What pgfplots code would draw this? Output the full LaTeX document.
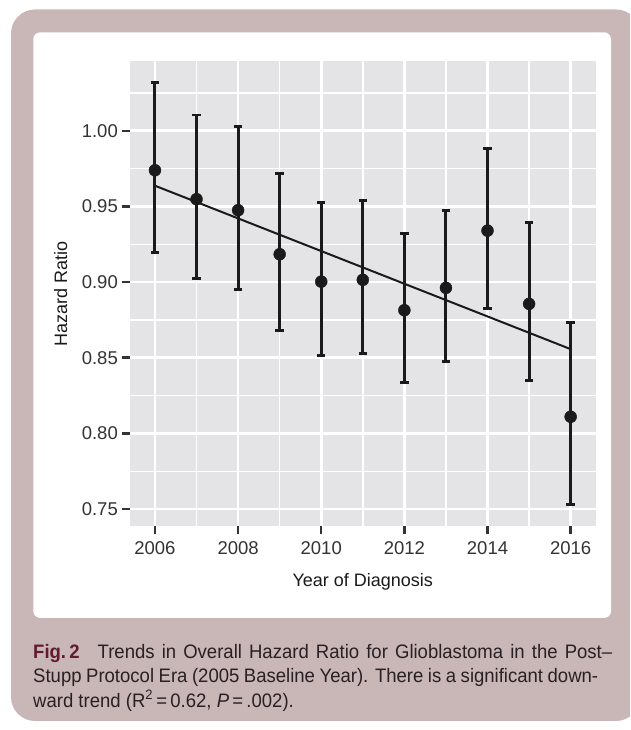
\documentclass[border=0pt]{standalone}
\usepackage{fontspec}
\usepackage{pgfplots}
\usepackage{pgfplotstable}
\pgfplotsset{compat=1.18}
\setmainfont{Liberation Sans}
\newfontfamily\capfont[FakeStretch=0.95]{Liberation Sans}
\definecolor{framecol}{RGB}{201,183,183}
\definecolor{panelcol}{RGB}{228,228,230}
\definecolor{figcol}{RGB}{100,25,50}
\definecolor{captext}{RGB}{40,32,36}
\definecolor{ink}{RGB}{26,26,26}
\definecolor{tickcol}{RGB}{51,51,51}

\pgfplotstableread{
x    y      lo     hi
2006 0.9739 0.9195 1.0318
2007 0.9548 0.9023 1.0104
2008 0.9475 0.8953 1.0027
2009 0.9184 0.8680 0.9719
2010 0.9003 0.8515 0.9528
2011 0.9015 0.8526 0.9541
2012 0.8814 0.8339 0.9320
2013 0.8962 0.8475 0.9475
2014 0.9340 0.8828 0.9884
2015 0.8856 0.8349 0.9393
2016 0.8110 0.7528 0.8735
}\hrdata

\begin{document}
\begin{tikzpicture}[x=1pt,y=1pt]
\path[use as bounding box] (0,0) rectangle (630,730);
\begin{scope}
\clip (0,0) rectangle (630,730);
\fill[framecol, rounded corners=24pt] (11,9) rectangle (640,720.5);
\end{scope}
\fill[white, rounded corners=7pt] (33.3,112) rectangle (611,697.7);

\begin{axis}[
  at={(129.6pt,204pt)}, anchor=south west,
  scale only axis, width=466.4pt, height=464.5pt,
  xmin=2005.39, xmax=2016.61, ymin=0.7388, ymax=1.0458,
  axis background/.style={fill=panelcol},
  axis line style={draw=none},
  xtick={2006,2008,2010,2012,2014,2016},
  xticklabels={2006,2008,2010,2012,2014,2016},
  ytick={0.75,0.80,0.85,0.90,0.95,1.00},
  yticklabels={0.75,0.80,0.85,0.90,0.95,1.00},
  minor xtick={2007,2009,2011,2013,2015},
  minor ytick={0.775,0.825,0.875,0.925,0.975,1.025},
  xtick pos=bottom, ytick pos=left,
  tick align=outside,
  major tick length=8pt, minor tick length=0pt,
  tick style={color=tickcol, line width=2.5pt},
  grid=both,
  major grid style={white, line width=2.6pt},
  minor grid style={white, line width=1.4pt},
  ticklabel style={font=\fontsize{18.5}{20}\selectfont, text=tickcol},
  yticklabel style={inner sep=0pt, xshift=-3.6pt},
  xticklabel style={inner sep=0pt, yshift=-7pt},
  xlabel={Year of Diagnosis},
  ylabel={Hazard Ratio},
  label style={font=\fontsize{18}{20}\selectfont, text=ink},
  xlabel style={at={(axis description cs:0.5,-0.1307)}, anchor=base},
  ylabel style={at={(axis description cs:-0.1342,0.5)}, anchor=base, rotate=0},
]
\addplot[ink, line width=2pt] coordinates {(2006,0.9637) (2016,0.8557)};
\addplot[ink, only marks, mark=*, mark size=6pt,
  error bars/.cd, y dir=both, y explicit,
  error bar style={line width=3pt, ink},
  error mark options={rotate=90, line width=2.8pt, mark size=4.2pt, ink}]
  table[x=x, y=y, y error plus expr=\thisrow{hi}-\thisrow{y}, y error minus expr=\thisrow{y}-\thisrow{lo}] {\hrdata};
\end{axis}

\node[anchor=base west, inner sep=0pt, text=captext, font=\capfont\fontsize{19.5}{20}\selectfont] at (33,71.5)
  {\makebox[579pt][s]{\mbox{\textcolor{figcol}{\bfseries Fig.\,2}}\hspace{18pt}Trends in Overall Hazard Ratio for Glioblastoma in the Post–}};
\node[anchor=base west, inner sep=0pt, text=captext, font=\capfont\fontsize{19.5}{20}\selectfont] at (33,47)
  {\makebox[565pt][s]{Stupp Protocol Era (2005 Baseline Year). There is a significant down-}};
\node[anchor=base west, inner sep=0pt, text=captext, font=\capfont\fontsize{19.5}{20}\selectfont] at (33,22.5)
  {ward trend (R\textsuperscript{2}\,=\,0.62, \textit{P}\,=\,.002).};
\end{tikzpicture}
\end{document}
